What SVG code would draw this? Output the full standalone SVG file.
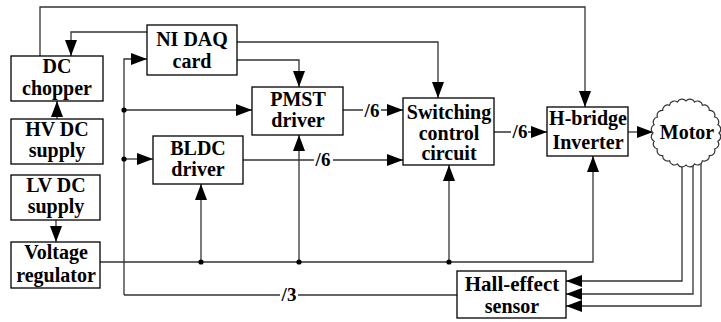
<svg xmlns="http://www.w3.org/2000/svg" width="721" height="322" viewBox="0 0 721 322">
<style>
.box{fill:#fff;stroke:#000;stroke-width:1.3}
.ln{fill:none;stroke:#333;stroke-width:1.3}
text{font-family:'Liberation Serif','DejaVu Serif',serif;font-weight:bold;text-anchor:middle;fill:#000}
.t{font-size:20px}
.lbl{font-size:19px}
.dot{fill:#000}
.bg{fill:#fff}
</style>
<defs>
<marker id="ar" markerUnits="userSpaceOnUse" markerWidth="17" markerHeight="13" refX="16" refY="6" orient="auto">
<path d="M0,0 L16,6 L0,12 z" fill="#000"/>
</marker>
</defs>
<rect width="721" height="322" fill="#fff"/>
<g id="connectors">
<path class="ln" d="M40,56 V7 H585 V107" marker-end="url(#ar)"/>
<path class="ln" d="M147,32 H71 V56" marker-end="url(#ar)"/>
<path class="ln" d="M57,119 V101" marker-end="url(#ar)"/>
<path class="ln" d="M56,220 V242" marker-end="url(#ar)"/>
<path class="ln" d="M124,295 V59 H147" marker-end="url(#ar)"/>
<path class="ln" d="M124,295 H457"/>
<path class="ln" d="M124,110 H252" marker-end="url(#ar)"/>
<path class="ln" d="M124,159 H153" marker-end="url(#ar)"/>
<path class="ln" d="M237,42 H438 V98" marker-end="url(#ar)"/>
<path class="ln" d="M237,60 H299 V87" marker-end="url(#ar)"/>
<path class="ln" d="M343,110 H403" marker-end="url(#ar)"/>
<path class="ln" d="M243,160 H403" marker-end="url(#ar)"/>
<path class="ln" d="M494,132 H547" marker-end="url(#ar)"/>
<path class="ln" d="M628,132 H653" marker-end="url(#ar)"/>
<path class="ln" d="M100,262 H593 V156" marker-end="url(#ar)"/>
<path class="ln" d="M201,262 V184" marker-end="url(#ar)"/>
<path class="ln" d="M299,262 V135" marker-end="url(#ar)"/>
<path class="ln" d="M449,262 V165" marker-end="url(#ar)"/>
<path class="ln" d="M682,155 V281 H566" marker-end="url(#ar)"/>
<path class="ln" d="M693,155 V294 H566" marker-end="url(#ar)"/>
<path class="ln" d="M701,155 V306 H566" marker-end="url(#ar)"/>
<circle class="dot" cx="124" cy="110" r="2.6"/>
<circle class="dot" cx="124" cy="159" r="2.6"/>
<circle class="dot" cx="201" cy="262" r="2.6"/>
<circle class="dot" cx="299" cy="262" r="2.6"/>
<circle class="dot" cx="449" cy="262" r="2.6"/>
<rect class="bg" x="363" y="102" width="18" height="16"/>
<text class="lbl" x="372" y="117">/6</text>
<rect class="bg" x="314" y="152" width="19" height="16"/>
<text class="lbl" x="323" y="166">/6</text>
<rect class="bg" x="511" y="124" width="17" height="16"/>
<text class="lbl" x="520" y="138">/6</text>
<rect class="bg" x="280" y="287" width="18" height="16"/>
<text class="lbl" x="289" y="301">/3</text>
</g>
<g id="dc-chopper"><rect class="box" x="11" y="56" width="92" height="45"/><text class="t" x="57" y="73">DC</text><text class="t" x="57" y="95">chopper</text></g>
<g id="hv-dc-supply"><rect class="box" x="11" y="119" width="92" height="45"/><text class="t" x="57" y="136">HV DC</text><text class="t" x="57" y="157">supply</text></g>
<g id="lv-dc-supply"><rect class="box" x="11" y="175" width="89" height="45"/><text class="t" x="56" y="192">LV DC</text><text class="t" x="56" y="213">supply</text></g>
<g id="voltage-regulator"><rect class="box" x="11" y="242" width="89" height="46"/><text class="t" x="56" y="259">Voltage</text><text class="t" x="56" y="282">regulator</text></g>
<g id="ni-daq-card"><rect class="box" x="147" y="25" width="90" height="50"/><text class="t" x="192" y="46">NI DAQ</text><text class="t" x="192" y="68">card</text></g>
<g id="pmst-driver"><rect class="box" x="252" y="87" width="91" height="48"/><text class="t" x="298" y="106">PMST</text><text class="t" x="298" y="127">driver</text></g>
<g id="bldc-driver"><rect class="box" x="153" y="136" width="90" height="48"/><text class="t" x="198" y="155">BLDC</text><text class="t" x="198" y="176">driver</text></g>
<g id="switching-control-circuit"><rect class="box" x="403" y="98" width="91" height="67"/><text class="t" x="449" y="119">Switching</text><text class="t" x="449" y="140">control</text><text class="t" x="449" y="160">circuit</text></g>
<g id="h-bridge-inverter"><rect class="box" x="547" y="107" width="81" height="49"/><text class="t" x="588" y="125">H-bridge</text><text class="t" x="588" y="149">Inverter</text></g>
<g id="motor"><path fill="#fff" stroke="#333" stroke-width="1.2" d="M719,133 A5,5 0 0 1 717.9,141.3 A5,5 0 0 1 714.6,149 A5,5 0 0 1 709.3,155.6 A5,5 0 0 1 702.5,160.7 A5,5 0 0 1 694.5,163.9 A5,5 0 0 1 686,165 A5,5 0 0 1 677.5,163.9 A5,5 0 0 1 669.5,160.7 A5,5 0 0 1 662.7,155.6 A5,5 0 0 1 657.4,149 A5,5 0 0 1 654.1,141.3 A5,5 0 0 1 653,133 A5,5 0 0 1 654.1,124.7 A5,5 0 0 1 657.4,117 A5,5 0 0 1 662.7,110.4 A5,5 0 0 1 669.5,105.3 A5,5 0 0 1 677.5,102.1 A5,5 0 0 1 686,101 A5,5 0 0 1 694.5,102.1 A5,5 0 0 1 702.5,105.3 A5,5 0 0 1 709.3,110.4 A5,5 0 0 1 714.6,117 A5,5 0 0 1 717.9,124.7 A5,5 0 0 1 719,133 z"/><text class="t" x="687" y="139">Motor</text></g>
<g id="hall-effect-sensor"><rect class="box" x="457" y="271" width="109" height="47"/><text class="t" x="512" y="291" style="font-size:21px">Hall-effect</text><text class="t" x="512" y="313">sensor</text></g>
</svg>
